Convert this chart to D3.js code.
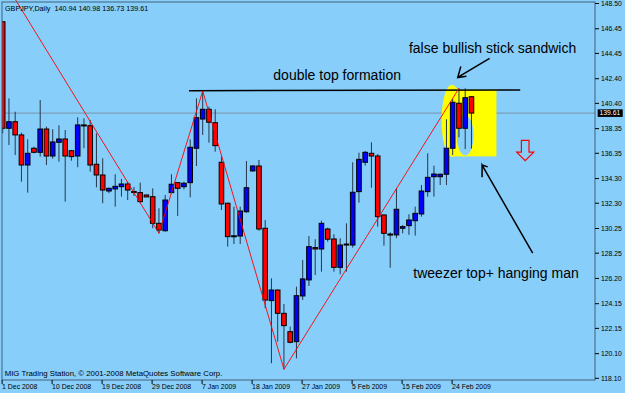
<!DOCTYPE html>
<html><head><meta charset="utf-8">
<script src="https://cdn.jsdelivr.net/npm/d3@7"></script>
<style>
html,body{margin:0;padding:0;background:#87CEFA;}
svg{display:block;}
text{font-family:"Liberation Sans",Arial,sans-serif;}
</style></head>
<body>
<script>
// ---- data ----
const barDates = ["1 Dec 2008","10 Dec 2008","19 Dec 2008","29 Dec 2008","7 Jan 2009","18 Jan 2009","27 Jan 2009","5 Feb 2009","15 Feb 2009","24 Feb 2009"];
const dateTickIndex = [0,8,16,24,32,40,48,56,64,72];
const openP  = [147.02,138.38,138.91,137.84,135.40,136.76,136.43,138.32,136.13,137.24,137.51,136.56,136.13,138.65,138.59,135.46,134.59,133.29,133.46,133.64,133.86,133.25,133.16,132.97,132.83,130.67,130.07,133.16,133.97,133.64,133.97,136.76,139.13,139.92,138.83,135.62,132.30,129.62,129.64,131.61,134.92,135.32,130.27,124.40,125.26,123.37,121.88,121.07,124.78,126.08,128.70,128.59,130.21,129.40,127.10,128.97,128.91,133.24,135.62,136.35,136.13,131.35,129.80,129.73,130.27,130.48,130.88,131.43,133.24,134.45,134.45,134.65,136.76,140.41,138.38,140.94];
const highP  = [147.08,140.81,139.72,138.02,137.49,136.89,140.67,138.51,138.30,138.62,138.24,136.62,139.27,139.19,139.05,137.97,135.95,133.56,134.65,134.27,134.05,133.62,133.97,132.99,133.51,131.89,132.97,134.65,133.99,134.05,137.49,140.81,141.40,140.13,139.92,136.08,132.35,132.02,132.02,135.73,135.40,135.81,130.94,126.21,125.30,124.13,122.29,125.53,127.70,129.64,129.38,130.88,130.32,129.78,129.46,130.67,135.62,136.40,136.54,137.24,136.29,131.37,129.94,133.51,130.54,131.40,132.02,133.78,136.35,135.35,134.70,139.11,140.75,141.62,141.62,140.98];
const lowP   = [137.97,137.02,136.21,134.05,133.16,136.35,136.08,135.40,135.91,135.67,132.43,135.75,135.22,136.76,134.86,133.59,132.30,133.11,132.02,132.83,132.56,132.89,132.30,132.79,130.27,129.86,129.99,133.11,131.27,133.43,132.78,135.32,137.84,137.21,136.48,131.75,128.78,128.99,128.99,131.53,134.86,130.07,123.78,119.32,121.07,118.83,120.94,119.72,124.45,125.59,126.48,126.75,129.18,126.75,126.54,126.75,128.70,132.34,135.35,133.56,130.40,128.86,127.07,129.46,129.86,129.73,129.67,131.21,132.83,132.83,133.78,133.78,136.21,137.65,136.70,136.73];
const closeP = [138.38,138.91,137.84,135.40,136.35,136.43,138.32,136.13,137.27,137.51,136.13,136.08,138.65,138.62,135.40,134.59,133.37,133.51,133.67,133.86,133.37,133.21,132.43,132.81,130.67,130.13,132.56,133.84,133.51,133.92,136.84,139.24,139.92,138.87,136.97,132.24,129.59,129.66,131.67,133.56,135.32,130.21,124.45,125.26,123.37,122.37,121.02,124.80,126.16,128.78,128.59,130.67,129.38,127.10,128.91,128.99,133.19,135.86,136.43,136.13,131.21,129.86,129.78,131.81,130.40,130.94,131.48,133.29,134.40,134.67,134.65,136.76,140.49,138.38,140.86,139.61];
const priceTicks = ["148.50","146.45","144.45","142.40","140.40","138.35","136.35","134.30","132.30","130.25","128.25","126.20","124.15","122.15","120.10","118.10"];
const zigzagIdx   = [2, 25, 32, 45, 73];
const zigzagPrice = [148.85, 129.86, 141.40, 118.83, 141.62];
const lastPrice = 139.61;
const titleText = "GBPJPY,Daily  140.94 140.98 136.73 139.61";
const footerText = "MIG Trading Station, © 2001-2008 MetaQuotes Software Corp.";
// annotations (bar index, price)
const doubleTopLine = [[29.8,141.43],[82.8,141.48]];
const notes = [
  {text:"double top formation", i:43.3, p:142.3},
  {text:"false bullish stick sandwich", i:65, p:144.45},
  {text:"tweezer top+ hanging man", i:65.7, p:126.25}
];

// ---- layout ----
const W=625,H=393, L=2, R=595, T=2, B=380;
const svg=d3.select("body").append("svg").attr("width",W).attr("height",H);
svg.append("rect").attr("width",W).attr("height",H).attr("fill","#87CEFA");

const x=d3.scaleLinear().domain([0,75]).range([2.7,2.7+6.25*75]);
const y=d3.scaleLinear().domain([118.10,148.50]).range([378.3,3.5]);

svg.append("clipPath").attr("id","plot").append("rect").attr("x",L).attr("y",0).attr("width",R-L).attr("height",B);
const g=svg.append("g").attr("clip-path","url(#plot)");

// last price line
g.append("line").attr("x1",L).attr("x2",R).attr("y1",y(lastPrice)).attr("y2",y(lastPrice))
 .attr("stroke","#7b93a8").attr("stroke-width",1);

// yellow highlight
const yl=g.append("g");
yl.append("ellipse").attr("cx",x(71.9)).attr("cy",y(139.0)).attr("rx",10.5).attr("ry",36).attr("fill","#FFFF00");
yl.append("rect").attr("x",x(71.9)).attr("y",y(141.5)).attr("width",x(79.0)-x(71.9)).attr("height",y(136.1)-y(141.5)).attr("fill","#FFFF00");
yl.append("ellipse").attr("cx",x(74)).attr("cy",y(137.8)).attr("rx",8.5).attr("ry",20).attr("fill","#87CEFA");

// title
svg.append("text").attr("x",5).attr("y",10.5).attr("font-size",7.2).attr("fill","#000")
  .style("white-space","pre").text(titleText);

// candles
const idx=d3.range(openP.length);
const cg=g.append("g");
cg.selectAll("line.w").data(idx).join("line").attr("class","w")
  .attr("x1",i=>x(i)).attr("x2",i=>x(i)).attr("y1",i=>y(highP[i])).attr("y2",i=>y(lowP[i]))
  .attr("stroke","#24384c").attr("stroke-width",1);
cg.selectAll("rect.b").data(idx).join("rect").attr("class","b")
  .attr("x",i=>x(i)-2.3).attr("width",4.6)
  .attr("y",i=>y(Math.max(openP[i],closeP[i])))
  .attr("height",i=>Math.max(1,Math.abs(y(openP[i])-y(closeP[i]))))
  .attr("fill",i=>closeP[i]>=openP[i]?"#0000FF":"#FF0000")
  .attr("stroke","#000").attr("stroke-width",1);

// double top line
g.append("line").attr("x1",x(doubleTopLine[0][0])).attr("y1",y(doubleTopLine[0][1]))
 .attr("x2",x(doubleTopLine[1][0])).attr("y2",y(doubleTopLine[1][1]))
 .attr("stroke","#000").attr("stroke-width",1.5);

// zigzag
g.append("path").datum(d3.range(zigzagIdx.length))
 .attr("d",d3.line().x(k=>x(zigzagIdx[k])).y(k=>y(zigzagPrice[k])))
 .attr("fill","none").attr("stroke","#FF0000").attr("stroke-width",0.9);

// down arrow (hollow red)
const ax=x(83.6), ay=y(137.4);
svg.append("path").attr("d",`M${ax-3.8},${ay} h7.6 v11.7 h4.7 l-8.5,8.5 l-8.5,-8.5 h4.7 Z`)
 .attr("fill","none").attr("stroke","#FF0000").attr("stroke-width",1.2);

// black pointer arrows
const arr=svg.append("g").attr("stroke","#000").attr("stroke-width",1.5).attr("fill","none");
arr.append("path").attr("d",`M${x(77.9)},${y(144.05)} L${x(72.8)},${y(142.5)} M${x(73.3)},${y(143.4)} L${x(72.8)},${y(142.5)} L${x(74.2)},${y(142.6)}`);
arr.append("path").attr("d",`M${x(84.8)},${y(128.25)} L${x(76.7)},${y(135.4)} L${x(76.7)},${y(134.4)} M${x(76.7)},${y(135.4)} L${x(77.6)},${y(135.25)}`);

// annotation texts
svg.selectAll("text.note").data(notes).join("text").attr("class","note")
 .attr("x",d=>x(d.i)).attr("y",d=>y(d.p)).attr("font-size",14).attr("fill","#000").text(d=>d.text);

// frame
svg.append("rect").attr("x",L).attr("y",T).attr("width",R-L).attr("height",B-T)
 .attr("fill","none").attr("stroke","#44607a").attr("stroke-width",1);

// price axis
const pa=svg.append("g");
priceTicks.forEach(t=>{
  const yy=y(+t);
  pa.append("line").attr("x1",R).attr("x2",R+4).attr("y1",yy).attr("y2",yy).attr("stroke","#000");
  pa.append("text").attr("x",601).attr("y",yy).attr("dy","0.35em").attr("font-size",6.8).attr("fill","#000").text(t);
});
pa.append("rect").attr("x",597.7).attr("y",y(lastPrice)-3.8).attr("width",25).attr("height",7.6).attr("fill","#000");
pa.append("text").attr("x",599.5).attr("y",y(lastPrice)).attr("dy","0.35em").attr("font-size",6.8).attr("fill","#fff").text(lastPrice.toFixed(2));

// time axis
const ta=svg.append("g");
dateTickIndex.forEach((bi,k)=>{
  const xx=x(bi)-0.6;
  ta.append("line").attr("x1",xx).attr("x2",xx).attr("y1",B).attr("y2",B+4).attr("stroke","#000");
  ta.append("text").attr("x",xx).attr("y",389.3).attr("font-size",6.9).attr("fill","#000").text(barDates[k]);
});

// footer
svg.append("text").attr("x",4.7).attr("y",376).attr("font-size",7.8).attr("fill","#000").text(footerText);
</script>
</body></html>
